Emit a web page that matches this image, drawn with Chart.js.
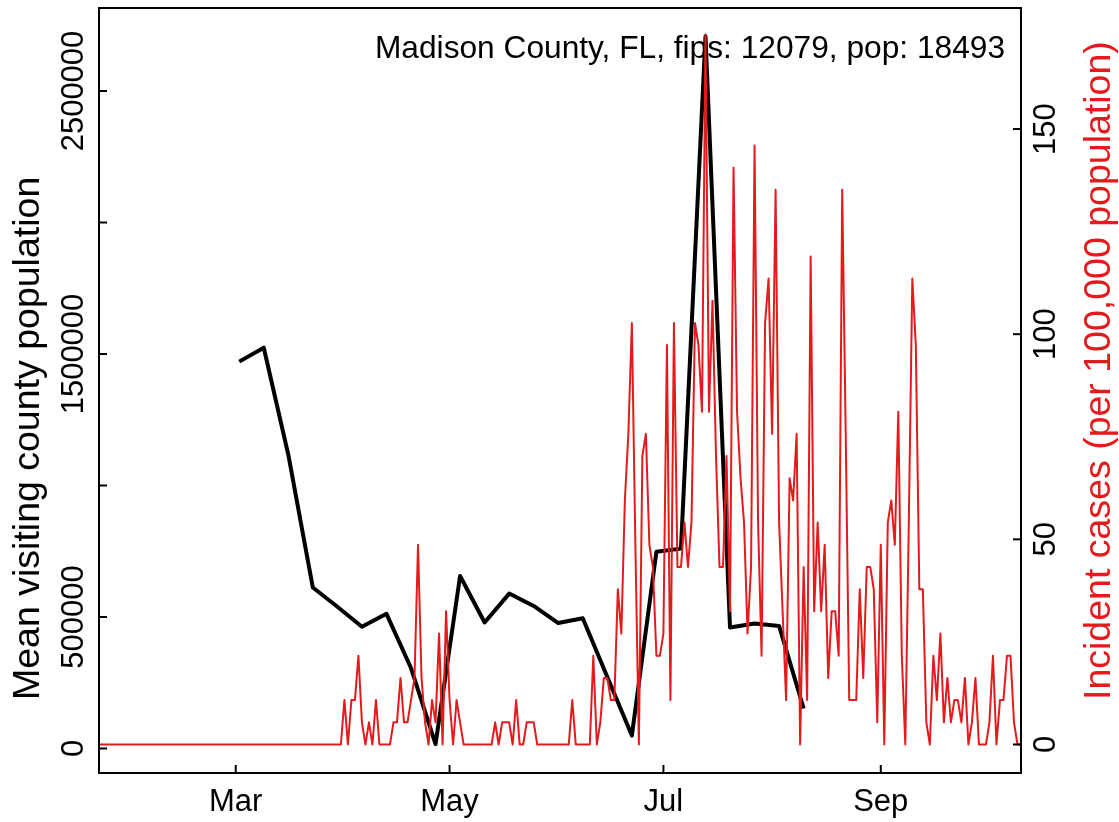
<!DOCTYPE html>
<html>
<head>
<meta charset="utf-8">
<script src="https://cdn.jsdelivr.net/npm/chart.js@4.4.1/dist/chart.umd.min.js"></script>
<style>
body{margin:0;background:#fff;}
</style>
</head>
<body>
<canvas id="chart" width="1119" height="822"></canvas>
<script>
// county info shown top right
const countyLabel = "Madison County, FL, fips: 12079, pop: 18493";
const population = 18493;

// weekly mean visiting population (black line)
const visitDates = ['2020-03-02','2020-03-09','2020-03-16','2020-03-23','2020-03-30','2020-04-06',
'2020-04-13','2020-04-20','2020-04-27','2020-05-04','2020-05-11','2020-05-18','2020-05-25',
'2020-06-01','2020-06-08','2020-06-15','2020-06-22','2020-06-29','2020-07-06','2020-07-13',
'2020-07-20','2020-07-27','2020-08-03','2020-08-10'];
const visitValues = [1471000,1524000,1117000,612000,539000,463000,512000,306000,16500,
656000,479000,589000,542000,477000,495000,272000,49000,748000,760000,2708000,
460000,475000,466000,152000];

// daily new cases (red line), first day below
const caseStart = '2020-01-22';
const dailyCases = [
0,0,0,0,0,0,0,0,0,0,0,0,0,0,0,0,0,0,0,0,0,0,0,0,0,0,0,0,0,0,
0,0,0,0,0,0,0,0,0,0,0,0,0,0,0,0,0,0,0,0,0,0,0,0,0,0,0,0,0,0,
0,0,0,0,0,0,0,0,0,0,
2,0,2,2,4,1,0,1,0,2,
0,0,0,0,1,1,3,1,1,2,
3,9,3,1,0,2,1,5,0,6,
2,0,2,1,0,
0,0,0,0,0,0,0,0,
1,0,1,1,1,0,2,0,0,1,1,1,0,
0,0,0,0,0,0,0,0,0,
2,0,0,0,0,0,
4,0,1,3,3,2,2,7,5,11,
14,19,9,0,13,14,9,8,4,4,
5,18,2,19,8,8,10,8,10,19,
18,15,32,15,20,13,8,8,13,6,
26,15,12,10,5,8,27,10,4,19,
21,14,25,10,6,2,12,11,14,0,
8,2,22,6,10,6,9,3,6,6,
4,25,14,2,2,2,7,3,8,8,
7,1,9,0,10,11,9,15,4,0,
10,21,18,7,7,1,0,4,2,5,
1,3,1,2,2,1,3,0,1,3,
0,0,0,1,4,0,2,2,4,4,
1,0,0
];

// axes
const monthTicks = ['2020-03-01','2020-05-01','2020-07-01','2020-09-01'];
const monthLabels = ['Mar','May','Jul','Sep'];
const leftTicks = [0,500000,1000000,1500000,2000000,2500000];
const leftLabels = ['0','500000','','1500000','','2500000'];
const rightTicks = [0,50,100,150];
const rightLabels = ['0','50','100','150'];

const origin = Date.parse('2020-03-01');
function dayNum(s){ return (Date.parse(s)-origin)/86400000; }

const visitPts = visitDates.map((d,i)=>({x:dayNum(d),y:visitValues[i]}));
const start = dayNum(caseStart);
const casePts = dailyCases.map((c,i)=>({x:start+i,y:c*100000/population}));

const FAMILY = '"Liberation Sans", Arial, Helvetica, sans-serif';
const FONT = '31px ' + FAMILY;
const TITLE_FONT = '37.5px ' + FAMILY;
const RED = '#e41a1c';

const frame = {
  id:'frame',
  beforeDatasetsDraw(chart){
    const ctx = chart.ctx;
    ctx.save();
    ctx.fillStyle = '#000';
    ctx.font = '31.7px ' + FAMILY;
    ctx.textAlign = 'right';
    ctx.textBaseline = 'alphabetic';
    ctx.fillText(countyLabel, 1005, 58);
    ctx.restore();
  },
  afterDraw(chart){
    const {ctx, chartArea:a, scales} = chart;
    ctx.save();
    ctx.strokeStyle = '#000';
    ctx.lineWidth = 2;
    ctx.strokeRect(a.left, a.top, a.right-a.left, a.bottom-a.top);
    ctx.font = FONT;
    ctx.fillStyle = '#000';

    // bottom axis
    ctx.textAlign = 'center';
    ctx.textBaseline = 'alphabetic';
    monthTicks.forEach((d,i)=>{
      const x = scales.x.getPixelForValue(dayNum(d));
      ctx.beginPath(); ctx.moveTo(x,a.bottom); ctx.lineTo(x,a.bottom-8); ctx.stroke();
      ctx.fillText(monthLabels[i], x, 811);
    });

    // left axis
    leftTicks.forEach((v,i)=>{
      const y = scales.y.getPixelForValue(v);
      ctx.beginPath(); ctx.moveTo(a.left,y); ctx.lineTo(a.left+8,y); ctx.stroke();
      if(leftLabels[i]){
        ctx.save(); ctx.translate(83,y); ctx.rotate(-Math.PI/2);
        ctx.fillText(leftLabels[i],0,0); ctx.restore();
      }
    });

    // right axis
    rightTicks.forEach((v,i)=>{
      const y = scales.y2.getPixelForValue(v);
      ctx.beginPath(); ctx.moveTo(a.right,y); ctx.lineTo(a.right-8,y); ctx.stroke();
      ctx.save(); ctx.translate(1055,y); ctx.rotate(-Math.PI/2);
      ctx.fillText(rightLabels[i],0,0); ctx.restore();
    });

    // axis titles, both start near the bottom of the plot
    ctx.font = TITLE_FONT;
    ctx.textAlign = 'left';
    ctx.save(); ctx.translate(39,700); ctx.rotate(-Math.PI/2);
    ctx.fillText('Mean visiting county population',0,0); ctx.restore();
    ctx.fillStyle = RED;
    ctx.save(); ctx.translate(1110,700); ctx.rotate(-Math.PI/2);
    ctx.fillText('Incident cases (per 100,000 population)',0,0); ctx.restore();
    ctx.restore();
  }
};

new Chart(document.getElementById('chart'),{
  type:'line',
  data:{
    datasets:[
      {label:'cases',data:casePts,yAxisID:'y2',borderColor:RED,borderWidth:2,
       pointRadius:0,tension:0,fill:false,borderJoinStyle:'round'},
      {label:'visits',data:visitPts,yAxisID:'y',borderColor:'#000',borderWidth:4,
       pointRadius:0,tension:0,fill:false,borderJoinStyle:'round'}
    ]
  },
  options:{
    responsive:false,
    animation:false,
    devicePixelRatio:1,
    layout:{padding:{left:99,right:98,top:8,bottom:49}},
    plugins:{legend:{display:false},tooltip:{enabled:false}},
    scales:{
      x:{type:'linear',min:-39,max:224,display:false},
      y:{type:'linear',min:-93200,max:2815600,display:false},
      y2:{type:'linear',min:-6.95,max:179.5,display:false}
    }
  },
  plugins:[frame]
});
</script>
</body>
</html>
